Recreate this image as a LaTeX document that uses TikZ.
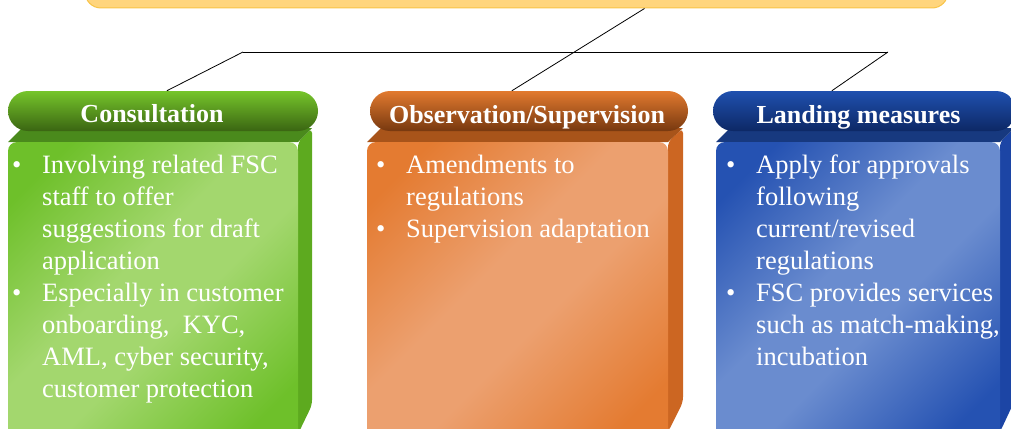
\documentclass[tikz,border=0pt]{standalone}
\usepackage{fontspec}
\setmainfont{Liberation Serif}
\usetikzlibrary{calc}
\definecolor{ylwfill}{HTML}{FFD57D}
\definecolor{ylwdraw}{HTML}{F8C447}
\definecolor{gTop}{HTML}{76C52B}
\definecolor{gBot}{HTML}{3A6512}
\definecolor{gEdge}{HTML}{6EC02A}
\definecolor{gLight}{HTML}{A3D76E}
\definecolor{gSide}{HTML}{5DAA1F}
\definecolor{gStrip}{HTML}{4A8A1C}
\definecolor{oTop}{HTML}{E27A2F}
\definecolor{oBot}{HTML}{77380F}
\definecolor{oEdge}{HTML}{E47B31}
\definecolor{oLight}{HTML}{ECA06F}
\definecolor{oSide}{HTML}{CC6622}
\definecolor{oStrip}{HTML}{A8541A}
\definecolor{bTop}{HTML}{1F50AF}
\definecolor{bBot}{HTML}{0D2865}
\definecolor{bEdge}{HTML}{2552B2}
\definecolor{bLight}{HTML}{6A8CCF}
\definecolor{bSide}{HTML}{1C45A5}
\definecolor{bStrip}{HTML}{17397F}
\pgfdeclareverticalshading{gfront}{100bp}{color(0bp)=(gEdge); color(22bp)=(gEdge); color(44bp)=(gLight); color(56bp)=(gLight); color(78bp)=(gEdge); color(100bp)=(gEdge)}
\pgfdeclareverticalshading{ofront}{100bp}{color(0bp)=(oEdge); color(22bp)=(oEdge); color(44bp)=(oLight); color(56bp)=(oLight); color(78bp)=(oEdge); color(100bp)=(oEdge)}
\pgfdeclareverticalshading{bfront}{100bp}{color(0bp)=(bEdge); color(22bp)=(bEdge); color(44bp)=(bLight); color(56bp)=(bLight); color(78bp)=(bEdge); color(100bp)=(bEdge)}
\newcommand{\bul}{\makebox[30pt][l]{\textbullet}}
\newcommand{\myind}{\hspace*{30pt}}
\begin{document}
\begin{tikzpicture}[x=1pt,y=-1pt,
  hdr/.style={rectangle, rounded corners=20pt, minimum height=40pt, inner sep=0pt},
  hdrtext/.style={anchor=base, text=white, inner sep=0pt, font={\fontsize{26}{30}\bfseries\selectfont}},
  bodytext/.style={anchor=north west, text=white, inner sep=0pt, align=left, font={\fontsize{26.5}{32}\selectfont}},
  conn/.style={draw=black, line width=0.8pt},
  front/.style={rounded corners=9pt}
]
\useasboundingbox (0,0) rectangle (1011,428);
\clip (0,0) rectangle (1011,428);

% top box
\node[rectangle, rounded corners=16pt, fill=ylwfill, draw=ylwdraw, line width=1pt,
      minimum width=863pt, minimum height=48pt, inner sep=0pt] (top) at (516.5,-16) {};

% green box
\fill[gSide, rounded corners=5pt] (298,142) -- (312,128) -- (312,405) -- (298,434) -- cycle;
\fill[gStrip] (8,142) -- (22,128) -- (312,128) -- (298,142) -- cycle;
\shade[front, shading=gfront, shading angle=45] (8,142) rectangle (298,445);
% orange box
\fill[oSide, rounded corners=5pt] (668,142) -- (683,128) -- (683,402) -- (668,432) -- cycle;
\fill[oStrip] (367,142) -- (381,128) -- (683,128) -- (668,142) -- cycle;
\shade[front, shading=ofront, shading angle=45] (367,142) rectangle (668,445);
% blue box
\fill[bSide, rounded corners=5pt] (1000,142) -- (1014,128) -- (1014,402) -- (1000,432) -- cycle;
\fill[bStrip] (716,142) -- (730,128) -- (1014,128) -- (1000,142) -- cycle;
\shade[front, shading=bfront, shading angle=45] (716,142) rectangle (1000,445);

% headers
\node[hdr, minimum width=310pt, top color=gTop, middle color=gTop, bottom color=gBot] (hdr1) at (163,111) {};
\node[hdr, minimum width=318pt, top color=oTop, middle color=oTop, bottom color=oBot] (hdr2) at (529,111) {};
\node[hdr, minimum width=303pt, top color=bTop, middle color=bTop, bottom color=bBot] (hdr3) at (864.5,111) {};

\node[hdrtext] (h1t) at (152,122) {Consultation};
\node[hdrtext] (h2t) at (527,123) {Observation/Supervision};
\node[hdrtext] (h3t) at (858.5,123) {Landing measures};

% connectors
\coordinate (j1) at (243,52);
\coordinate (j2) at (888,52);
\draw[conn] ($(top.south west)+(560,0)$) -- ($(hdr2.north west)+(142,0)$);
\draw[conn] (j1) -- (j2);
\draw[conn] (j1) -- ($(hdr1.north west)+(159,0)$);
\draw[conn] (j2) -- ($(hdr3.north west)+(119,0)$);

% body texts
\node[bodytext] (t1) at (12,153) {\rule{0pt}{20pt}\bul Involving related FSC\\
\myind staff to offer\\
\myind suggestions for draft\\
\myind application\\
\bul Especially in customer\\
\myind onboarding,\ \ KYC,\\
\myind AML, cyber security,\\
\myind customer protection};

\node[bodytext] (t2) at (376,153) {\rule{0pt}{20pt}\bul Amendments to\\
\myind regulations\\
\bul Supervision adaptation};

\node[bodytext] (t3) at (726,153) {\rule{0pt}{20pt}\bul Apply for approvals\\
\myind following\\
\myind current/revised\\
\myind regulations\\
\bul FSC provides services\\
\myind such as match-making,\\
\myind incubation};
\end{tikzpicture}
\end{document}
